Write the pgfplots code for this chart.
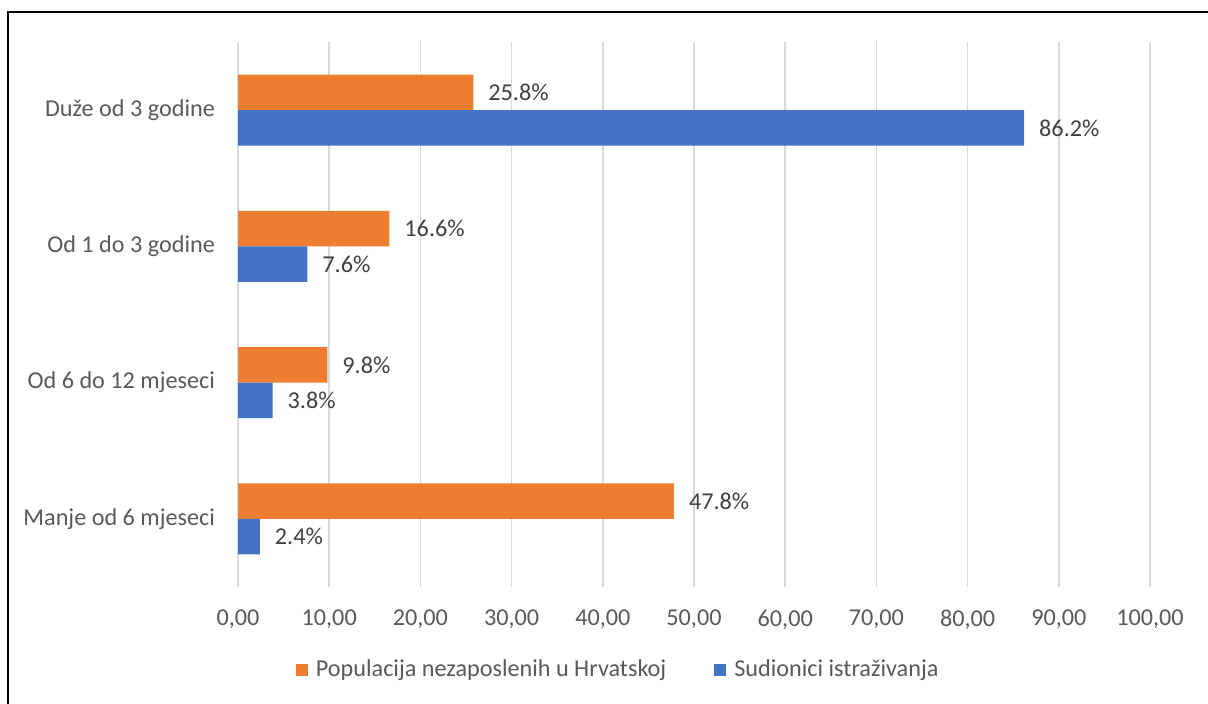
\documentclass[border=0pt]{standalone}
\usepackage{pgfplots}
\pgfplotsset{compat=1.18}
\usepackage{fontspec}
\setmainfont{Carlito}
\definecolor{orng}{HTML}{ED7D31}
\definecolor{blu}{HTML}{4472C4}
\definecolor{lbl}{HTML}{595959}
\definecolor{dlbl}{HTML}{404040}
\definecolor{grd}{HTML}{D9D9D9}
\begin{document}
\begin{tikzpicture}[font=\fontsize{12.1}{14.5}\selectfont]
\useasboundingbox (0,0) rectangle (604pt,352pt);
\draw[line width=1pt] (3.75pt,-5pt) -- (3.75pt,345.75pt) -- (620pt,345.75pt);
\begin{axis}[
  at={(119pt,58.5pt)}, anchor=south west,
  scale only axis, width=456pt, height=272.5pt,
  xbar, bar width=17.75pt,
  xmin=0, xmax=100, ymin=-0.5, ymax=3.5,
  xtick={0,10,...,100},
  ytick={0,1,2,3},
  yticklabels={Manje od 6 mjeseci, Od 6 do 12 mjeseci, Od 1 do 3 godine, Duže od 3 godine},
  xmajorgrids, major grid style={grd, line width=0.75pt},
  axis line style={draw=none}, major tick length=0pt,
  tick label style={lbl},
  xticklabel style={/pgf/number format/fixed, /pgf/number format/fixed zerofill, /pgf/number format/precision=2, /pgf/number format/use comma, /pgf/number format/assume math mode=true, yshift=-8pt},
  yticklabel style={xshift=-8pt},
  legend style={at={(0.418,-0.1523)}, anchor=center, draw=none, legend columns=2, text=lbl, /tikz/every even column/.append style={column sep=22pt}},
  legend image code/.code={\fill[#1] (0pt,-3pt) rectangle (6pt,3pt); \path (8pt,0pt);},
  nodes near coords={\pgfmathprintnumber[fixed,fixed zerofill,precision=1,assume math mode=true]{\pgfplotspointmeta}\%},
  nodes near coords style={dlbl, anchor=west, xshift=4pt},
]
\addplot[fill=orng, draw=none, bar shift=8.875pt] coordinates {(47.8,0) (9.8,1) (16.6,2) (25.8,3)};
\addplot[fill=blu, draw=none, bar shift=-8.875pt] coordinates {(2.4,0) (3.8,1) (7.6,2) (86.2,3)};
\legend{Populacija nezaposlenih u Hrvatskoj, Sudionici istraživanja}
\end{axis}
\end{tikzpicture}
\end{document}
